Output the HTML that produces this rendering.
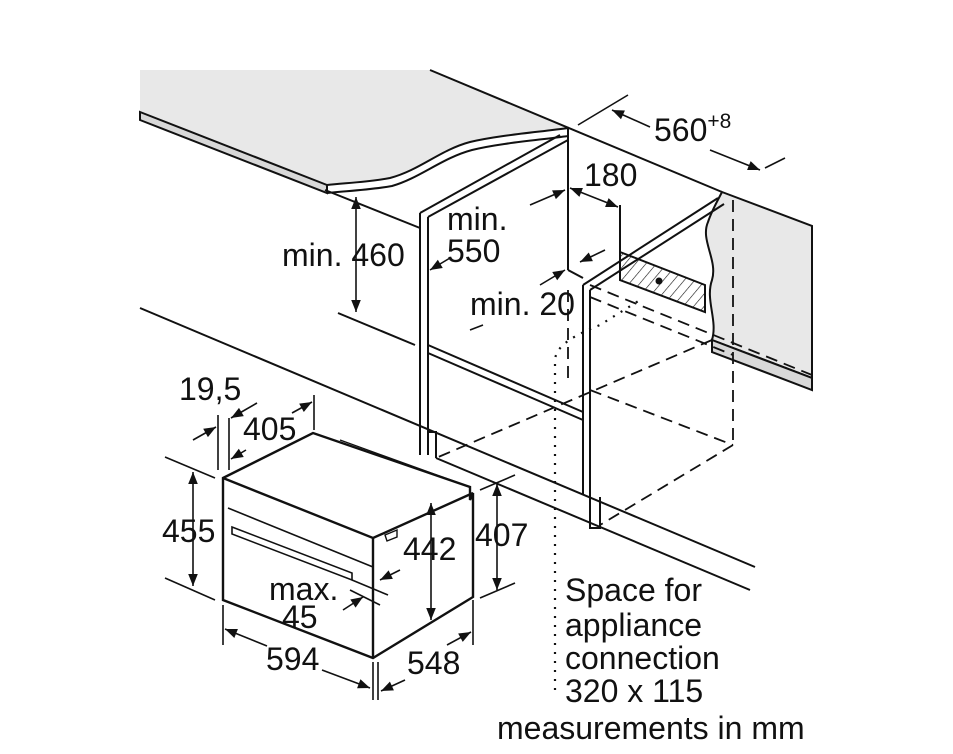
<!DOCTYPE html>
<html><head><meta charset="utf-8"><style>
html,body{margin:0;padding:0;background:#fff}
svg{display:block}
text{font-family:"Liberation Sans",sans-serif;font-size:32px;fill:#111}
</style></head><body>
<svg width="953" height="754" viewBox="0 0 953 754" xmlns="http://www.w3.org/2000/svg">
<defs>
<marker id="a" viewBox="0 0 10 10" refX="10" refY="5" markerWidth="14" markerHeight="12" orient="auto-start-reverse" markerUnits="userSpaceOnUse"><path d="M0,1 L10,5 L0,9 z" fill="#111"/></marker>
<pattern id="h" width="8" height="8" patternUnits="userSpaceOnUse" patternTransform="rotate(40)"><line x1="0" y1="0" x2="0" y2="8" stroke="#111" stroke-width="1.2"/></pattern>
</defs>
<g stroke="#111" stroke-width="2" fill="none">
<path d="M140,70 L430,70 L568,128 C540,132 500,135 470,142 C440,150 420,170 390,178 C370,182 345,183 327,185 L140,112 Z" fill="#e8e8e8" stroke="none"/>
<path d="M140,112 L327,185 L327,193 L140,120 Z" fill="#d8d8d8"/>
<path d="M327,185 C345,183 370,182 390,178 C420,170 440,150 470,142 C500,135 540,132 568,128 L568,136 C540,140 500,143 472,150 C442,158 420,178 392,186 C370,190 345,191 327,193"/>
<line x1="430" y1="70" x2="722" y2="192"/>
<path d="M722,192 L812,226 L812,378 L712,340 C718,320 705,300 712,280 C718,260 700,240 708,222 C712,210 718,200 722,192 Z" fill="#e8e8e8"/>
<path d="M712,340 L812,378 L812,390 L712,352 Z" fill="#d8d8d8"/>
<line x1="420" y1="213" x2="420" y2="455"/>
<line x1="428" y1="217" x2="428" y2="455"/>
<line x1="420" y1="213" x2="560" y2="135"/>
<line x1="428" y1="217" x2="568" y2="140"/>
<line x1="568" y1="128" x2="568" y2="270"/>
<line x1="325" y1="190" x2="420" y2="228"/>
<line x1="428" y1="345" x2="583" y2="412"/>
<line x1="428" y1="353" x2="583" y2="420"/>
<line x1="338" y1="313" x2="415" y2="345"/>
<line x1="583" y1="285" x2="583" y2="495"/>
<line x1="590" y1="290" x2="590" y2="495"/>
<line x1="583" y1="285" x2="718" y2="198"/>
<line x1="590" y1="290" x2="724" y2="204"/>
<line x1="568" y1="270" x2="583" y2="278"/>
<path d="M590,495 L590,528 L600,528 L600,497"/>
<path d="M428,455 L428,432 L436,432 L436,458" />
<line x1="140" y1="308" x2="755" y2="567"/>
<line x1="436" y1="458" x2="750" y2="590"/>
<path d="M620,252 L705,285 L705,312 L620,280 Z" fill="url(#h)"/>
<circle cx="659" cy="281" r="2.5" fill="#111"/>
<line x1="620" y1="205" x2="620" y2="252"/>
</g>
<g stroke="#111" stroke-width="1.8" fill="none" stroke-dasharray="12,7">
<line x1="733" y1="200" x2="733" y2="445"/>
<line x1="590" y1="285" x2="812" y2="375"/>
<line x1="590" y1="297" x2="733" y2="355"/>
<line x1="590" y1="390" x2="733" y2="445"/>
<line x1="733" y1="445" x2="600" y2="525"/>
<line x1="712" y1="340" x2="436" y2="458"/>
<line x1="568" y1="290" x2="568" y2="380"/>
</g>
<g stroke="#111" stroke-width="2.2" fill="none" stroke-dasharray="2,7">
<path d="M555,690 L555,360 C556,345 575,335 600,325 L640,300"/>
</g>
<g stroke="#111" stroke-width="2.4" fill="#fff">
<path d="M223,478 L313,433 L470,487 L470,500 L473,493 L473,597 L373,658 L223,600 Z"/>
<path d="M223,478 L373,538 L473,493" fill="none"/>
<line x1="373" y1="538" x2="373" y2="658"/>
<line x1="228" y1="508" x2="373" y2="567" stroke-width="1.6"/>
<path d="M232,527 L352,573 L352,580 L232,534 Z" stroke-width="1.6"/>
<path d="M385,535 L397,530 L397,537 L387,541 Z" stroke-width="1.4"/>
<line x1="340" y1="440" x2="470" y2="487" stroke-width="1.4"/>
</g>
<g stroke="#111" stroke-width="1.6" fill="none">
<line x1="356" y1="197" x2="356" y2="312" marker-start="url(#a)" marker-end="url(#a)"/>
<line x1="530" y1="205" x2="565" y2="190" marker-end="url(#a)"/>
<line x1="450" y1="258" x2="430" y2="270" marker-end="url(#a)"/>
<line x1="570" y1="188" x2="618" y2="207" marker-start="url(#a)" marker-end="url(#a)"/>
<line x1="578" y1="125" x2="628" y2="95"/>
<line x1="765" y1="168" x2="785" y2="158"/>
<line x1="612" y1="110" x2="650" y2="127" marker-start="url(#a)"/>
<line x1="710" y1="150" x2="760" y2="170" marker-end="url(#a)"/>
<line x1="605" y1="250" x2="580" y2="262" marker-end="url(#a)"/>
<line x1="540" y1="285" x2="565" y2="270" marker-end="url(#a)"/>
<line x1="470" y1="330" x2="483" y2="325"/>
<line x1="218" y1="415" x2="218" y2="470"/>
<line x1="229" y1="418" x2="229" y2="470"/>
<line x1="314" y1="395" x2="314" y2="430"/>
<line x1="193" y1="440" x2="216" y2="427" marker-end="url(#a)"/>
<line x1="257" y1="403" x2="231" y2="418" marker-end="url(#a)"/>
<line x1="246" y1="450" x2="231" y2="459" marker-end="url(#a)"/>
<line x1="292" y1="413" x2="312" y2="402" marker-end="url(#a)"/>
<line x1="165" y1="457" x2="215" y2="478"/>
<line x1="165" y1="578" x2="215" y2="600"/>
<line x1="193" y1="472" x2="193" y2="586" marker-start="url(#a)" marker-end="url(#a)"/>
<line x1="480" y1="490" x2="515" y2="475"/>
<line x1="480" y1="598" x2="515" y2="583"/>
<line x1="497" y1="484" x2="497" y2="590" marker-start="url(#a)" marker-end="url(#a)"/>
<line x1="431" y1="503" x2="431" y2="620" marker-start="url(#a)" marker-end="url(#a)"/>
<line x1="352" y1="580" x2="388" y2="595"/>
<line x1="350" y1="590" x2="380" y2="605"/>
<line x1="400" y1="570" x2="380" y2="580" marker-end="url(#a)"/>
<line x1="343" y1="610" x2="363" y2="597" marker-end="url(#a)"/>
<line x1="223" y1="605" x2="223" y2="645"/>
<line x1="373" y1="662" x2="373" y2="700"/>
<line x1="378" y1="662" x2="378" y2="700"/>
<line x1="473" y1="600" x2="473" y2="645"/>
<line x1="267" y1="646" x2="225" y2="629" marker-end="url(#a)"/>
<line x1="322" y1="670" x2="370" y2="688" marker-end="url(#a)"/>
<line x1="405" y1="680" x2="381" y2="691" marker-end="url(#a)"/>
<line x1="447" y1="645" x2="471" y2="632" marker-end="url(#a)"/>
</g>
<text x="282" y="266">min. 460</text>
<text x="447" y="230">min.</text>
<text x="447" y="262">550</text>
<text x="584" y="186">180</text>
<text x="654" y="141">560<tspan font-size="21" dy="-13">+8</tspan></text>
<text x="470" y="315">min. 20</text>
<text x="179" y="400">19,5</text>
<text x="243" y="440">405</text>
<text x="162" y="542">455</text>
<text x="403" y="560">442</text>
<text x="475" y="546">407</text>
<text x="269" y="600">max.</text>
<text x="282" y="628">45</text>
<text x="266" y="670">594</text>
<text x="407" y="674">548</text>
<text x="565" y="601">Space for</text>
<text x="565" y="636">appliance</text>
<text x="565" y="669">connection</text>
<text x="565" y="702">320 x 115</text>
<text x="497" y="739">measurements in mm</text>
</svg>
</body></html>
